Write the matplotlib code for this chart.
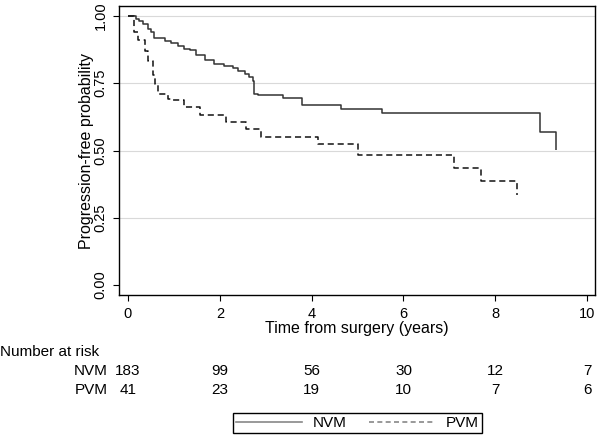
import matplotlib
matplotlib.use("Agg")
import matplotlib.pyplot as plt
from matplotlib.transforms import blended_transform_factory
from matplotlib.lines import Line2D

plt.rcParams['font.family'] = ['Liberation Sans', 'DejaVu Sans']

# Kaplan-Meier step data
nvm_t = [0, 0.18, 0.23, 0.33, 0.43, 0.51, 0.57, 0.80, 0.94, 1.09, 1.23, 1.34, 1.49,
         1.67, 1.88, 2.10, 2.28, 2.39, 2.54, 2.64, 2.72, 2.75, 2.83, 3.37, 3.8,
         4.63, 5.54, 8.98, 9.33]
nvm_p = [1.0, 0.99, 0.98, 0.97, 0.95, 0.94, 0.917, 0.908, 0.90, 0.89, 0.878, 0.872,
         0.856, 0.835, 0.822, 0.813, 0.806, 0.797, 0.785, 0.773, 0.76, 0.711, 0.705,
         0.695, 0.67, 0.656, 0.64, 0.569, 0.501]
pvm_t = [0, 0.13, 0.22, 0.36, 0.43, 0.54, 0.58, 0.65, 0.87, 0.94, 1.23, 1.56, 2.14,
         2.57, 2.9, 4.13, 5.0, 7.1, 7.68, 8.48]
pvm_p = [1.0, 0.94, 0.909, 0.871, 0.834, 0.779, 0.748, 0.711, 0.693, 0.686, 0.662,
         0.632, 0.607, 0.579, 0.551, 0.524, 0.485, 0.436, 0.386, 0.334]

risk_times = [0, 2, 4, 6, 8, 10]
risk_nvm = [183, 99, 56, 30, 12, 7]
risk_pvm = [41, 23, 19, 10, 7, 6]
yticks = [0.0, 0.25, 0.5, 0.75, 1.0]
ytick_labels = ["0.00", "0.25", "0.50", "0.75", "1.00"]

fig = plt.figure(figsize=(6, 4.36), dpi=100)
ax = fig.add_axes([0.1983, 0.3234, 0.7933, 0.6628])

for y in yticks[1:]:
    ax.axhline(y, color='#d9d9d9', lw=0.8, zorder=0)

ax.step(nvm_t, nvm_p, where='post', color='#333333', lw=1.1, solid_capstyle='butt')
ax.step(pvm_t, pvm_p, where='post', color='#111111', lw=1.1, linestyle=(0, (4, 2.5)))

ax.set_xlim(-0.196, 10.17)
ax.set_ylim(-0.037, 1.037)
ax.set_xticks(risk_times)
ax.set_yticks(yticks)
ax.set_yticklabels(ytick_labels, rotation=90, va='center')
ax.tick_params(direction='out', length=4, width=0.8, labelsize=10.5, colors='black')
ax.tick_params(axis='x', pad=5)
ax.tick_params(axis='y', pad=4)
for s in ax.spines.values():
    s.set_linewidth(1.0)
    s.set_color('black')
ax.set_xlabel("Time from surgery (years)", fontsize=11.5, labelpad=0)
ax.set_ylabel("Progression-free probability", fontsize=11.5, labelpad=0)

tr = blended_transform_factory(ax.transData, fig.transFigure)
fig.text(0.0, 0.193, "Number at risk", fontsize=11, va='center', ha='left')
fig.text(0.18, 0.148, "NVM", fontsize=11, va='center', ha='right')
fig.text(0.18, 0.1055, "PVM", fontsize=11, va='center', ha='right')
for t, a, b in zip(risk_times, risk_nvm, risk_pvm):
    ax.text(t, 0.148, str(a), transform=tr, fontsize=11, va='center', ha='center')
    ax.text(t, 0.1055, str(b), transform=tr, fontsize=11, va='center', ha='center')

handles = [Line2D([], [], color='#888888', lw=1.2),
           Line2D([], [], color='#888888', lw=1.2, linestyle=(0, (3, 2)))]
leg = fig.legend(handles, ["NVM", "PVM"], loc='lower center', bbox_to_anchor=(0.596, 0.003),
                 ncol=2, fancybox=False, edgecolor='black', fontsize=11, handlelength=4.3,
                 columnspacing=1.5, borderpad=0.2, framealpha=1, handletextpad=0.7,
                 borderaxespad=0.1)
leg.get_frame().set_linewidth(1.0)

fig.savefig("out.png", dpi=100)
